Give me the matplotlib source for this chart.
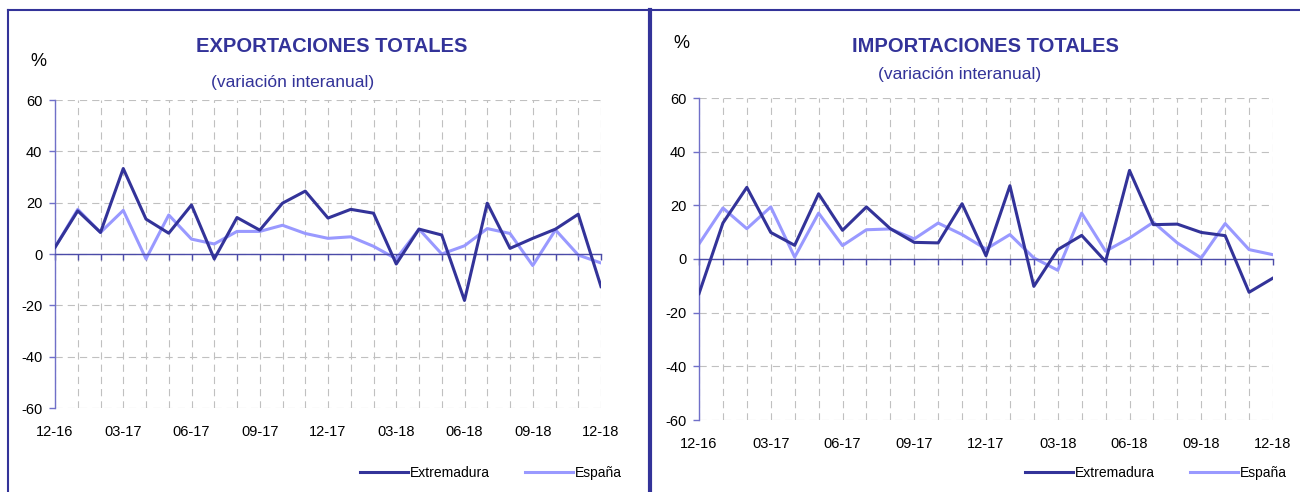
import matplotlib.pyplot as plt
import numpy as np
from matplotlib.lines import Line2D

plt.rcParams['font.family'] = ['Liberation Sans', 'DejaVu Sans']
plt.rcParams['axes.unicode_minus'] = False

# months 12-16 .. 12-18 (25 points)
months = np.arange(25)
tick_pos = [0, 3, 6, 9, 12, 15, 18, 21, 24]
tick_labels = ['12-16', '03-17', '06-17', '09-17', '12-17', '03-18', '06-18', '09-18', '12-18']

exp_extremadura = [2.6, 16.8, 8.4, 33.3, 13.6, 8.1, 19.1, -1.9, 14.2, 9.3, 19.8, 24.5, 14.0,
                   17.4, 15.9, -3.9, 9.7, 7.4, -18.1, 19.8, 2.2, 6.1, 9.7, 15.5, -12.7]
exp_espana = [2.6, 17.4, 8.4, 17.0, -1.9, 15.2, 5.8, 3.9, 8.8, 8.8, 11.2, 8.0, 6.1,
              6.7, 3.0, -1.9, 9.7, 0.0, 3.2, 9.9, 8.0, -4.5, 9.4, -0.4, -3.5]

imp_extremadura = [-12.9, 13.4, 26.7, 9.9, 5.1, 24.3, 10.7, 19.4, 11.3, 6.2, 6.0, 20.6, 1.2,
                   27.3, -10.2, 3.5, 8.8, -0.9, 33.0, 12.8, 13.0, 9.9, 8.7, -12.4, -7.1]
imp_espana = [5.6, 19.0, 11.3, 19.4, 0.7, 17.1, 5.0, 10.9, 11.2, 7.5, 13.4, 9.1, 3.7,
              9.1, 0.4, -4.2, 17.1, 2.9, 7.8, 13.7, 6.0, 0.4, 13.2, 3.5, 1.6]

series_names = ['Extremadura', 'España']
dark = '#333399'
light = '#9999ff'
W, H = 1300, 492

fig = plt.figure(figsize=(13, 4.92), dpi=100)


def fx(px):
    return px / W


def fy(py):
    return 1 - py / H


def panel(rect, ext, esp):
    ax = fig.add_axes(rect)
    ax.plot(months, ext, color=dark, lw=2.2, zorder=3)
    ax.plot(months, esp, color=light, lw=2.2, zorder=2)
    ax.set_xlim(0, 24)
    ax.set_ylim(-60, 60)
    ax.set_yticks(range(-60, 61, 20))
    ax.set_xticks(months)
    ax.set_xticklabels([])
    ax.grid(True, color='#c0c0c0', lw=0.8, linestyle=(0, (6.5, 4.5)))
    for s in ['top', 'right']:
        ax.spines[s].set_visible(False)
    ax.spines['left'].set_color('#7070c8')
    ax.spines['left'].set_linewidth(1.0)
    ax.spines['bottom'].set_position(('data', 0))
    ax.spines['bottom'].set_color('#4b4ba8')
    ax.spines['bottom'].set_linewidth(1.0)
    ax.tick_params(axis='x', direction='out', length=4, color='#4b4ba8', width=1)
    ax.tick_params(axis='y', direction='out', length=4, color='#7070c8', width=1,
                   labelsize=10.5, pad=5)
    sec = ax.secondary_xaxis('bottom')
    sec.set_xticks(tick_pos)
    sec.set_xticklabels(tick_labels)
    sec.tick_params(length=0, labelsize=10.5, pad=12)
    sec.spines['bottom'].set_visible(False)
    ax.set_facecolor('none')
    return ax


panel([fx(55), fy(408), fx(546), (408 - 100) / H], exp_extremadura, exp_espana)
panel([fx(699), fy(420), fx(574), (420 - 98) / H], imp_extremadura, imp_espana)

# titles
fig.text(fx(332), fy(47), 'EXPORTACIONES TOTALES', ha='center', va='center',
         fontsize=14.5, fontweight='bold', color=dark)
fig.text(fx(293), fy(83), '(variación interanual)', ha='center', va='center',
         fontsize=12.5, color=dark)
fig.text(fx(38), fy(62), '%', ha='center', va='center', fontsize=13)

fig.text(fx(985), fy(47), 'IMPORTACIONES TOTALES', ha='center', va='center',
         fontsize=14.5, fontweight='bold', color=dark)
fig.text(fx(960), fy(75), '(variación interanual)', ha='center', va='center',
         fontsize=12.5, color=dark)
fig.text(fx(681), fy(43), '%', ha='center', va='center', fontsize=13)

# legends
handles = [Line2D([], [], color=dark, lw=2.2), Line2D([], [], color=light, lw=2.2)]
for x0 in (360, 1025):
    fig.legend(handles, series_names, loc='center left', bbox_to_anchor=(fx(x0), fy(473)),
               ncol=2, frameon=False, fontsize=10, handlelength=3.45, handletextpad=0.15,
               columnspacing=2.5, borderpad=0, borderaxespad=0)

# panel frames
fig.add_artist(Line2D([fx(8), fx(1300)], [fy(10), fy(10)], color=dark, lw=1.5))
fig.add_artist(Line2D([fx(8), fx(8)], [fy(10), 0], color=dark, lw=1.5))
fig.add_artist(Line2D([fx(650), fx(650)], [fy(10), 0], color=dark, lw=3))

fig.savefig('out.png', dpi=100)
